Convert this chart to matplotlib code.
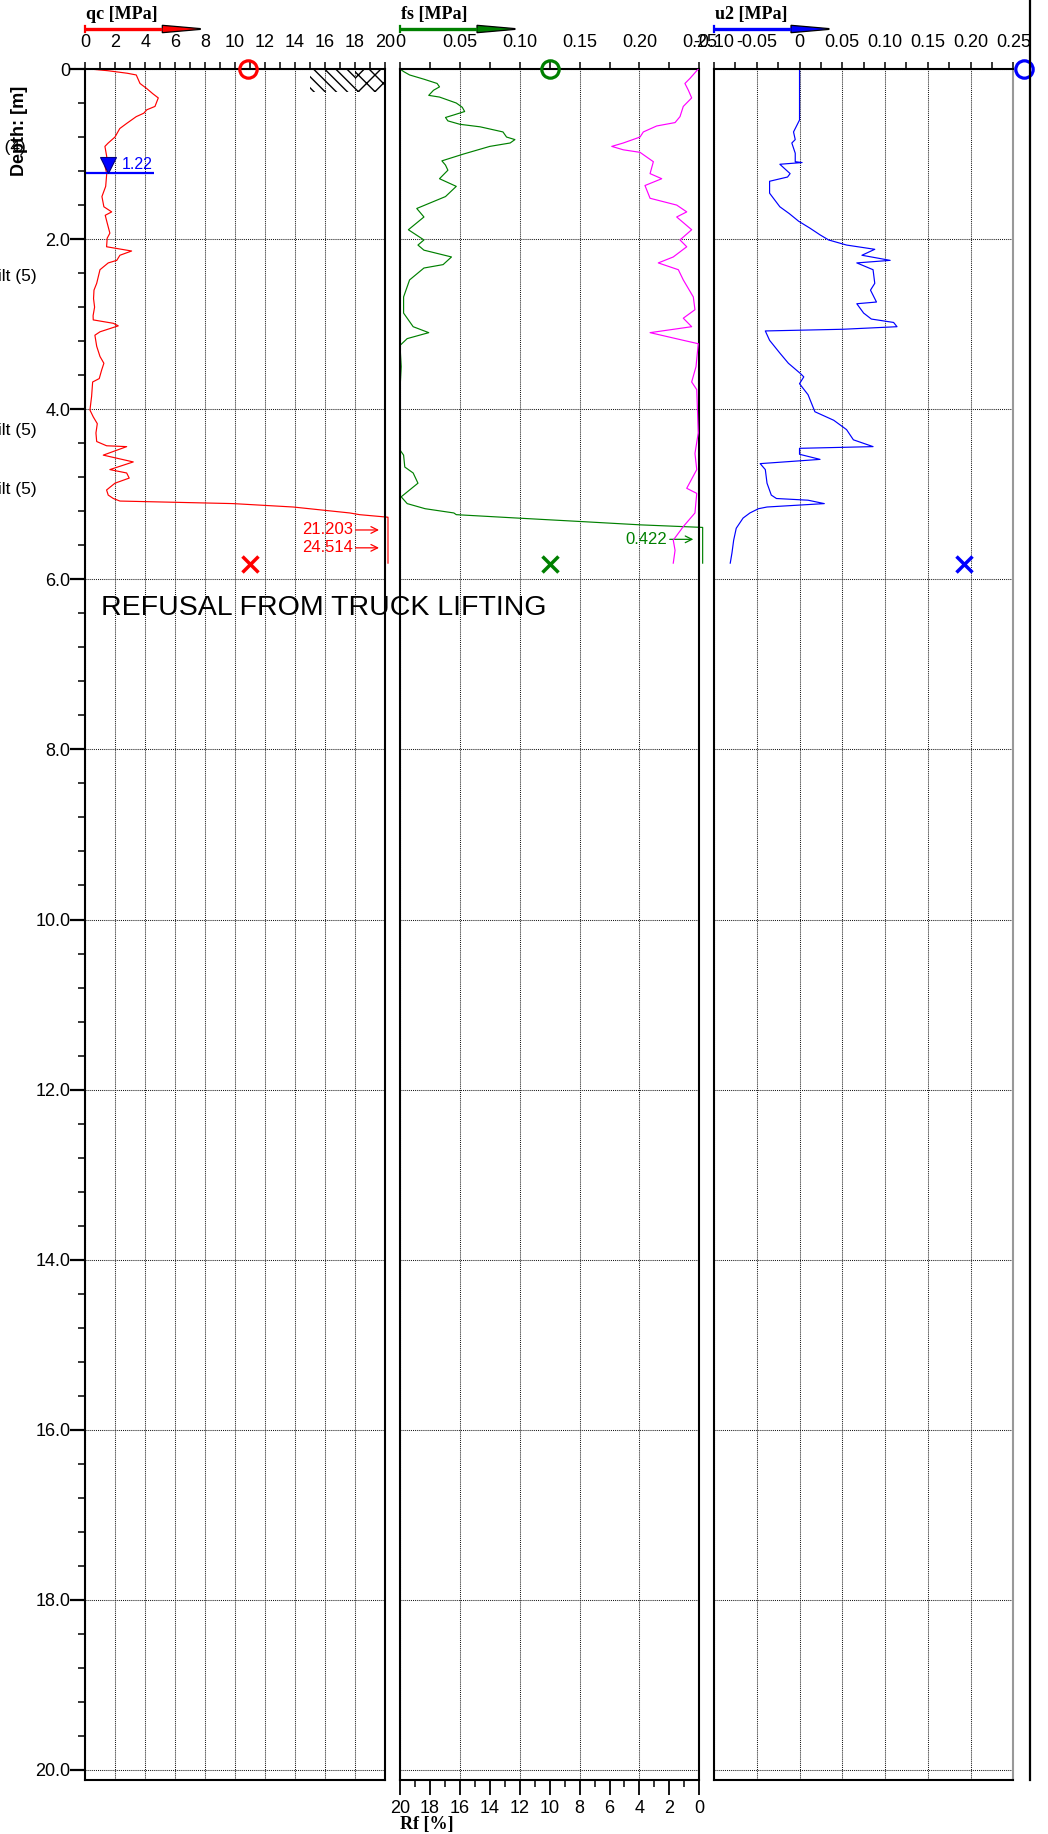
import matplotlib
matplotlib.use('Agg')
import matplotlib.pyplot as plt
import numpy as np
from matplotlib.ticker import MultipleLocator, FuncFormatter
from matplotlib.patches import Rectangle, Polygon

plt.rcParams['font.family'] = ['Liberation Sans', 'DejaVu Sans']

# ---- sounding data ----
qc_depth = [0.00, 0.02, 0.05, 0.07, 0.17, 0.23, 0.29, 0.34, 0.44, 0.48, 0.52, 0.56, 0.64, 0.70,
            0.80, 0.87, 0.91, 1.03, 1.14, 1.23, 1.38, 1.50, 1.62, 1.68, 1.72, 1.81, 1.93, 1.99,
            2.09, 2.11, 2.14, 2.19, 2.25, 2.28, 2.36, 2.52, 2.60, 2.70, 2.80, 2.90, 2.95, 2.99,
            3.02, 3.09, 3.13, 3.26, 3.38, 3.46, 3.54, 3.64, 3.68, 3.85, 4.01, 4.09, 4.17, 4.28,
            4.38, 4.43, 4.44, 4.54, 4.62, 4.71, 4.75, 4.81, 4.87, 4.95, 5.01, 5.05, 5.08, 5.11,
            5.15, 5.22, 5.24, 5.27, 5.42, 5.63, 5.81]
qc = [0.30, 1.50, 2.80, 3.40, 3.65, 4.10, 4.50, 4.87, 4.65, 4.10, 3.90, 3.40, 2.76, 2.30,
      1.98, 1.53, 1.31, 1.43, 1.31, 1.43, 1.36, 1.11, 1.24, 1.76, 1.33, 1.46, 1.64, 1.46,
      1.42, 2.09, 3.09, 2.31, 2.10, 1.53, 0.98, 0.76, 0.58, 0.55, 0.62, 0.52, 0.53, 1.87,
      2.20, 0.98, 0.64, 0.76, 0.98, 1.24, 1.09, 0.93, 0.49, 0.42, 0.31, 0.53, 0.80, 0.71,
      0.76, 1.42, 2.76, 1.20, 3.20, 1.64, 2.76, 2.93, 1.98, 1.42, 1.53, 1.87, 2.31, 9.87,
      13.87, 17.65, 18.30, 20.60, 21.203, 24.514, 23.80]

fs_depth = [0.00, 0.03, 0.07, 0.12, 0.17, 0.21, 0.25, 0.31, 0.33, 0.40, 0.45, 0.50, 0.54, 0.57,
            0.61, 0.65, 0.68, 0.74, 0.80, 0.83, 0.87, 0.91, 1.00, 1.08, 1.13, 1.19, 1.29, 1.38,
            1.50, 1.64, 1.74, 1.89, 2.01, 2.07, 2.13, 2.21, 2.30, 2.34, 2.48, 2.68, 2.87, 3.03,
            3.10, 3.17, 3.25, 3.50, 3.77, 4.48, 4.54, 4.68, 4.75, 4.87, 4.95, 5.03, 5.11, 5.17,
            5.22, 5.24, 5.28, 5.32, 5.36, 5.39, 5.53, 5.81]
fs = [0.000, 0.003, 0.008, 0.020, 0.031, 0.033, 0.028, 0.024, 0.033, 0.047, 0.052, 0.054, 0.045, 0.038,
      0.040, 0.050, 0.067, 0.086, 0.089, 0.096, 0.092, 0.075, 0.053, 0.035, 0.038, 0.040, 0.033, 0.047,
      0.038, 0.014, 0.020, 0.007, 0.020, 0.015, 0.020, 0.043, 0.036, 0.020, 0.008, 0.003, 0.003, 0.011,
      0.024, 0.006, 0.000, 0.001, 0.000, 0.000, 0.003, 0.004, 0.011, 0.015, 0.008, 0.001, 0.006, 0.021,
      0.045, 0.047, 0.098, 0.150, 0.201, 0.260, 0.422, 0.390]

rf_depth = [0.00, 0.11, 0.17, 0.25, 0.34, 0.44, 0.56, 0.63, 0.67, 0.74, 0.80, 0.87, 0.91, 0.95,
            0.98, 1.09, 1.23, 1.29, 1.37, 1.52, 1.60, 1.68, 1.74, 1.89, 2.01, 2.09, 2.21, 2.28,
            2.36, 2.48, 2.68, 2.83, 2.93, 3.03, 3.10, 3.19, 3.23, 3.50, 3.68, 3.77, 4.28, 4.52,
            4.71, 4.93, 4.99, 5.22, 5.38, 5.54, 5.66, 5.81]
rf = [0.07, 0.62, 0.96, 0.73, 0.51, 1.07, 1.29, 1.62, 2.85, 3.74, 3.96, 5.08, 5.85, 5.08,
      3.96, 3.07, 3.29, 2.51, 3.63, 3.29, 1.51, 0.84, 1.51, 0.51, 1.29, 0.84, 1.74, 2.74,
      1.40, 1.07, 0.40, 0.29, 1.07, 0.51, 3.29, 1.07, 0.07, 0.22, 0.51, 0.17, 0.07, 0.29,
      0.17, 0.84, 0.17, 0.29, 1.07, 1.74, 1.62, 1.74]

u2_depth = [0.00, 0.60, 0.66, 0.74, 0.83, 0.87, 0.99, 1.09, 1.10, 1.12, 1.23, 1.27, 1.32, 1.46,
            1.62, 1.70, 1.79, 1.87, 1.95, 2.01, 2.07, 2.12, 2.19, 2.25, 2.28, 2.36, 2.52, 2.60,
            2.74, 2.76, 2.87, 2.94, 2.98, 3.03, 3.06, 3.08, 3.19, 3.34, 3.46, 3.58, 3.62, 3.70,
            3.83, 4.03, 4.13, 4.24, 4.36, 4.44, 4.46, 4.53, 4.59, 4.64, 4.71, 4.87, 5.01, 5.05,
            5.07, 5.11, 5.15, 5.17, 5.22, 5.28, 5.40, 5.54, 5.69, 5.81]
u2 = [0.000, 0.000, -0.003, -0.007, -0.005, -0.009, -0.005, -0.005, 0.003, -0.023, -0.011, -0.014, -0.035, -0.035,
      -0.023, -0.012, -0.001, 0.012, 0.024, 0.034, 0.055, 0.088, 0.073, 0.106, 0.067, 0.086, 0.088, 0.083,
      0.090, 0.067, 0.075, 0.084, 0.110, 0.114, 0.051, -0.040, -0.035, -0.023, -0.013, 0.001, 0.005, 0.000,
      0.010, 0.018, 0.040, 0.055, 0.063, 0.086, 0.000, 0.000, 0.024, -0.046, -0.040, -0.038, -0.033, -0.027,
      0.010, 0.029, -0.038, -0.048, -0.058, -0.066, -0.074, -0.077, -0.079, -0.081]

# values beyond the plotting range that get an arrow label
qc_flag_depth = [5.42, 5.63]
fs_flag_depth = [5.53]

gwt_depth = 1.22          # ground water table
end_depth = 5.82          # end of sounding
start_marks = [10.87, 0.125, 0.2625]   # qc, fs, u2 circles at surface
end_marks = [10.98, 0.125, 0.192]      # qc, fs, u2 crosses at end

soil_labels = ['Silty sand (4)', 'Clayey silt (5)', 'Clayey silt (5)', 'Clayey silt (5)']
soil_depths = [0.97, 2.44, 4.25, 4.94]

# ---- layout (pixels) ----
W, H = 1048, 1834
TOP, BOT = 69, 1780
PX_PER_M = 85.05
DMAX = (BOT - TOP) / PX_PER_M
panels_x = [(85.3, 385.0), (400.0, 699.3), (714.0, 1013.3)]
TICK_FS = 13

fig = plt.figure(figsize=(W / 100, H / 100), dpi=100)


def px_axes(x0, x1):
    return fig.add_axes([x0 / W, 1 - BOT / H, (x1 - x0) / W, (BOT - TOP) / H])


ax1 = px_axes(*panels_x[0])
ax2 = px_axes(*panels_x[1])
ax3 = px_axes(*panels_x[2])
axr = ax2.twiny()

grid_kw = dict(color='0.1', linestyle=(0, (1, 1)), linewidth=0.75)
for ax in (ax1, ax2, ax3):
    ax.set_ylim(DMAX, 0)
    ax.xaxis.tick_top()
    ax.tick_params(axis='x', which='both', direction='out', length=5, width=1.1,
                   labelsize=TICK_FS, pad=8.3)
    ax.yaxis.set_major_locator(MultipleLocator(2))
    ax.grid(True, which='major', **grid_kw)
    ax.set_axisbelow(True)
    for s in ax.spines.values():
        s.set_linewidth(1.5)

# qc panel with depth axis
ax1.set_xlim(0, 20)
ax1.xaxis.set_major_locator(MultipleLocator(2))
ax1.xaxis.set_minor_locator(MultipleLocator(1))
ax1.yaxis.set_minor_locator(MultipleLocator(0.4))
ax1.yaxis.set_major_formatter(FuncFormatter(lambda v, p: '0' if v == 0 else f'{v:.1f}'))
ax1.tick_params(axis='y', which='major', length=10.8, width=1.6, pad=0, labelsize=TICK_FS)
ax1.tick_params(axis='y', which='minor', length=5, width=1.1)

# fs panel
ax2.set_xlim(0, 0.25)
ax2.xaxis.set_major_locator(MultipleLocator(0.05))
ax2.xaxis.set_minor_locator(MultipleLocator(0.025))
ax2.xaxis.set_major_formatter(FuncFormatter(lambda v, p: '0' if abs(v) < 1e-9 else f'{v:.2f}'))
ax2.tick_params(axis='y', which='both', left=False, labelleft=False)

# friction ratio on the bottom of the fs panel
axr.set_xlim(20, 0)
axr.xaxis.tick_bottom()
axr.xaxis.set_major_locator(MultipleLocator(2))
axr.xaxis.set_minor_locator(MultipleLocator(1))
axr.tick_params(axis='x', which='major', direction='out', length=10.8, width=1.3, pad=3.5,
                labelsize=TICK_FS)
axr.tick_params(axis='x', which='minor', direction='out', length=5, width=1.1)
for s in axr.spines.values():
    s.set_visible(False)

# u2 panel
ax3.set_xlim(-0.10, 0.25)
ax3.xaxis.set_major_locator(MultipleLocator(0.05))
ax3.xaxis.set_minor_locator(MultipleLocator(0.025))
ax3.xaxis.set_major_formatter(FuncFormatter(lambda v, p: '0' if abs(v) < 1e-9 else f'{v:.2f}'))
ax3.tick_params(axis='y', which='both', left=False, labelleft=False)
ax3.spines['right'].set_color('0.6')

# ---- curves ----
RED, GREEN, MAG, BLUE = '#ff0000', '#008000', '#ff00ff', '#0000ff'
qc_a = np.array(qc)
fs_a = np.array(fs)
ax1.plot(np.minimum(qc_a, 20.2), qc_depth, color=RED, lw=0.85, clip_on=False)
ax2.plot(np.minimum(fs_a, 0.2528), fs_depth, color=GREEN, lw=0.85, clip_on=False)
axr.plot(rf, rf_depth, color=MAG, lw=0.85)
ax3.plot(u2, u2_depth, color=BLUE, lw=0.85)

# off-scale values
for d in qc_flag_depth:
    v = qc[qc_depth.index(d)]
    ax1.annotate(f'{v:.3f}', xy=(19.6, d), xytext=(17.85, d), ha='right', va='center',
                 color=RED, fontsize=12, arrowprops=dict(arrowstyle='->', color=RED, lw=0.9,
                                                         shrinkA=0, shrinkB=0))
for d in fs_flag_depth:
    v = fs[fs_depth.index(d)]
    ax2.annotate(f'{v:.3f}', xy=(0.245, d), xytext=(0.223, d), ha='right', va='center',
                 color=GREEN, fontsize=12, arrowprops=dict(arrowstyle='->', color=GREEN, lw=0.9,
                                                           shrinkA=0, shrinkB=0))

# start / end markers
for ax, xs, xe, c in zip((ax1, ax2, ax3), start_marks, end_marks, (RED, GREEN, BLUE)):
    ax.plot(xs, 0, 'o', ms=12.5, mfc='none', mec=c, mew=2.3, clip_on=False, zorder=5)
    ax.plot(xe, end_depth, 'x', ms=11.5, mec=c, mew=2.5, clip_on=False, zorder=5)

# ground water table
ax1.plot([0, 4.6], [gwt_depth, gwt_depth], color=BLUE, lw=1.6, solid_capstyle='butt')
ax1.plot(1.5, gwt_depth - 0.095, 'v', ms=11, mfc=BLUE, mec='navy', mew=0.8)
ax1.text(2.43, gwt_depth - 0.1, f'{gwt_depth:.2f}', color=BLUE, fontsize=11.5, va='center')

# soil symbol at the surface
ax1.add_patch(Rectangle((15, 0), 3, 0.27, facecolor='none', edgecolor='k', lw=0, hatch='\\\\\\'))
ax1.add_patch(Rectangle((18, 0), 2, 0.27, facecolor='none', edgecolor='k', lw=0, hatch='xx'))

# ---- overlay for headings and notes (pixel coordinates) ----
ov = fig.add_axes([0, 0, 1, 1])
ov.set_xlim(0, W)
ov.set_ylim(H, 0)
ov.axis('off')
ov.patch.set_visible(False)

titles = ['qc [MPa]', 'fs [MPa]', 'u2 [MPa]']
for (x0, x1), t, c in zip(panels_x, titles, (RED, GREEN, BLUE)):
    ov.text(x0 + 1, 14.5, t, fontsize=13, fontweight='bold', family='Liberation Serif',
            ha='left', va='center')
    ov.plot([x0, x0 + 77], [29, 29], color=c, lw=2.4, solid_capstyle='butt')
    ov.plot([x0, x0], [26, 32], color=c, lw=1.6)
    ov.add_patch(Polygon([(x0 + 77, 25.3), (x0 + 77, 32.7), (x0 + 115, 29.4), (x0 + 115, 28.6)],
                         closed=True, facecolor=c, edgecolor='k', lw=0.9))

ov.text(400, 1825, 'Rf [%]', fontsize=13, fontweight='bold', family='Liberation Serif',
        ha='left', va='center')
ov.plot([1030, 1030], [0, BOT], color='k', lw=1.6)
ov.text(101, 608, 'REFUSAL FROM TRUCK LIFTING', fontsize=20.5, ha='left', va='center')
for lab, d in zip(soil_labels, soil_depths):
    xr = 26 if d < 1.5 else 37
    ov.text(xr, TOP + d * PX_PER_M - (4 if d < 1.5 else 0), lab, fontsize=12.5,
            ha='right', va='center')
ov.text(19.5, 131, 'Depth: [m]', fontsize=13, fontweight='bold', rotation=90,
        ha='center', va='center')

fig.savefig('out.png', dpi=100)
